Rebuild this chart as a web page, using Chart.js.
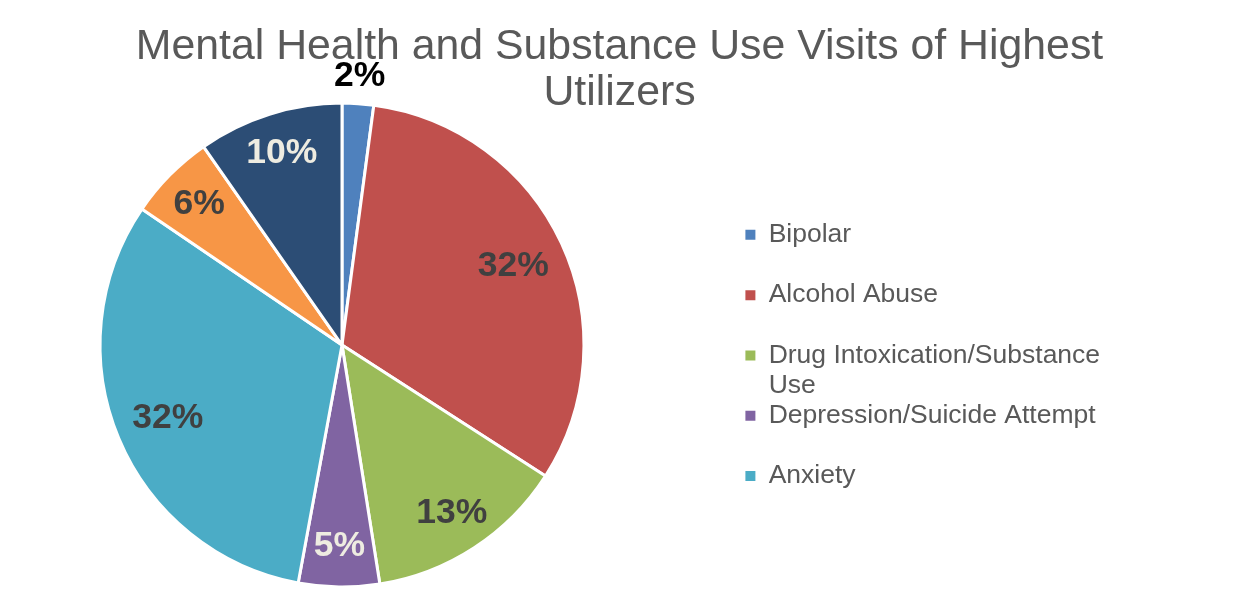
<!DOCTYPE html>
<html lang="en">
<head>
    <meta charset="UTF-8">
    <title>Mental Health and Substance Use Visits of Highest Utilizers</title>
    <script src="https://cdn.jsdelivr.net/npm/chart.js"></script>
    <style>
        html, body { margin: 0; padding: 0; background: #ffffff; }
        #wrap { width: 1239px; height: 606px; position: relative; }
    </style>
</head>
<body>

    <div id="wrap"><canvas id="visitsChart"></canvas></div>

    <script>
        // the last two slices have no legend entry in the picture (cut off), so no names
        const categories = ['Bipolar', 'Alcohol Abuse', ['Drug Intoxication/Substance', 'Use'],
            'Depression/Suicide Attempt', 'Anxiety', '', ''];
        const visits = [2.1, 32.0, 13.4, 5.4, 31.6, 5.8, 9.7]; // share of visits, %

        const sliceColors = ['#4f81bd', '#c0504d', '#9bbb59', '#8064a2', '#4bacc6', '#f79646', '#2c4d75'];
        const labelColors = ['#000000', '#404040', '#404040', '#eeece1', '#404040', '#404040', '#eeece1'];

        const FONT = "'Liberation Sans', Arial, sans-serif";

        // percentage labels, inside the slice or just outside for tiny ones
        const sliceLabels = {
            id: 'sliceLabels',
            afterDatasetsDraw(chart) {
                const ctx = chart.ctx;
                const total = visits.reduce((a, b) => a + b, 0);
                ctx.save();
                ctx.font = 'bold 35.5px ' + FONT;
                ctx.textAlign = 'center';
                ctx.textBaseline = 'middle';
                chart.getDatasetMeta(0).data.forEach((arc, i) => {
                    const p = arc.getProps(['x', 'y', 'startAngle', 'endAngle', 'outerRadius'], true);
                    const pct = Math.round(visits[i] / total * 100);
                    const mid = (p.startAngle + p.endAngle) / 2;
                    let r = p.outerRadius * (pct > 25 ? 0.78 : 0.83);
                    if (pct < 3) r = p.outerRadius + 27;
                    ctx.fillStyle = labelColors[i];
                    ctx.fillText(pct + '%', p.x + Math.cos(mid) * r, p.y + Math.sin(mid) * r);
                });
                ctx.restore();
            }
        };

        // Excel keeps the pie at the left with a wide gap before the legend:
        // widen the legend box and push its entries right
        const legendGap = {
            id: 'legendGap',
            beforeInit(chart) {
                const fit = chart.legend.fit;
                chart.legend.fit = function () {
                    fit.call(this);
                    this.width = 555;
                };
            },
            afterLayout(chart) {
                chart.legend.left += 61;
            }
        };

        const ctx = document.getElementById('visitsChart').getContext('2d');

        new Chart(ctx, {
            type: 'pie',
            data: {
                labels: categories,
                datasets: [{
                    data: visits,
                    backgroundColor: sliceColors,
                    borderColor: '#ffffff',
                    borderWidth: 3,
                    hoverBorderWidth: 3,
                    hoverOffset: 0,
                    offset: 0
                }]
            },
            options: {
                responsive: true,
                maintainAspectRatio: false,
                animation: false,
                events: [],
                layout: { padding: { left: 0, right: 0, top: 0, bottom: 17.5 } },
                plugins: {
                    title: {
                        display: true,
                        text: ['Mental Health and Substance Use Visits of Highest', 'Utilizers'],
                        color: '#595959',
                        font: { family: FONT, size: 42.8, weight: 'normal', lineHeight: 1.09 },
                        padding: { top: 23.5, bottom: -15.2 }
                    },
                    legend: {
                        position: 'right',
                        align: 'start',
                        fullSize: false,
                        // empty title only used as top spacing
                        title: { display: true, text: '', padding: { top: 105.2, bottom: 0 } },
                        labels: {
                            boxWidth: 10,
                            boxHeight: 10,
                            padding: 0.4,
                            color: '#595959',
                            font: { family: FONT, size: 26.5, lineHeight: 1.13 },
                            generateLabels(chart) {
                                // every entry gets two text lines so rows step evenly,
                                // the wrapped one just uses its second line
                                return Chart.overrides.doughnut.plugins.legend.labels.generateLabels(chart)
                                    .filter(item => item.text !== '')
                                    .map(item => ({
                                        ...item,
                                        lineWidth: 0,
                                        text: Array.isArray(item.text) ? item.text : [item.text, '']
                                    }));
                            }
                        }
                    },
                    tooltip: { enabled: false }
                }
            },
            plugins: [sliceLabels, legendGap]
        });
    </script>

</body>
</html>
